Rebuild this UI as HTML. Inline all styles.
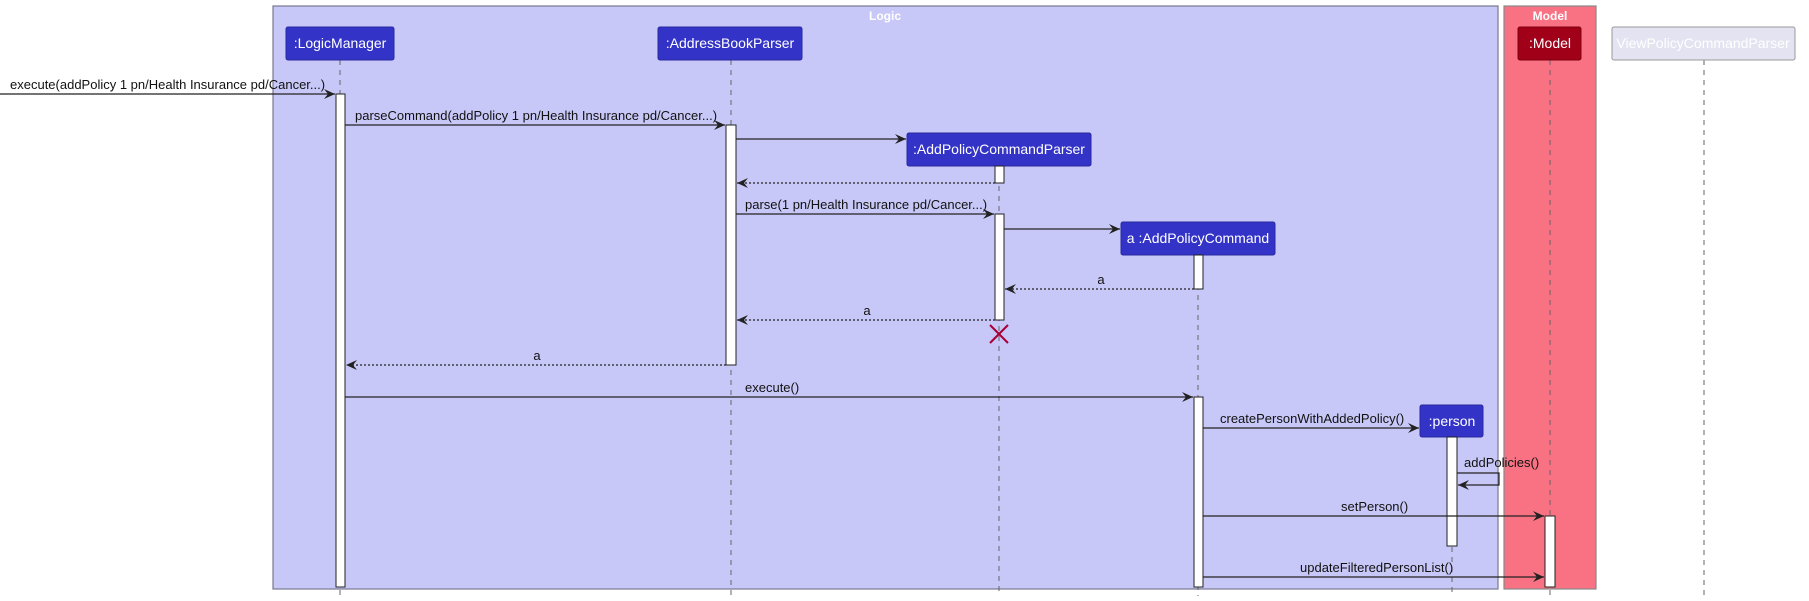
<!DOCTYPE html>
<html><head><meta charset="utf-8"><style>
html,body{margin:0;padding:0;background:#fff;}
svg{display:block;font-family:"Liberation Sans",sans-serif;}
</style></head><body>
<svg width="1809" height="601" viewBox="0 0 1809 601" xmlns="http://www.w3.org/2000/svg">
<defs>
<marker id="ah" markerWidth="12" markerHeight="10" refX="11" refY="5" orient="auto" markerUnits="userSpaceOnUse">
<path d="M0,0 L11,5 L0,10 L4,5 Z" fill="#222"/>
</marker>
</defs>
<rect x="273" y="6" width="1225" height="583" fill="#c8c8f8" stroke="#777790" stroke-width="1.2"/>
<text x="885" y="20" font-size="12" font-weight="bold" fill="#fff" text-anchor="middle">Logic</text>
<rect x="1504" y="6" width="92" height="583" fill="#f87284" stroke="#888" stroke-width="1.2"/>
<text x="1550" y="20" font-size="12" font-weight="bold" fill="#fff" text-anchor="middle">Model</text>

<g stroke="#666" stroke-width="1" stroke-dasharray="5,5">
<line x1="340" y1="60" x2="340" y2="596"/>
<line x1="731" y1="60" x2="731" y2="596"/>
<line x1="999" y1="166" x2="999" y2="596"/>
<line x1="1198" y1="255" x2="1198" y2="596"/>
<line x1="1452" y1="437" x2="1452" y2="596"/>
<line x1="1550" y1="60" x2="1550" y2="596"/>
<line x1="1704" y1="60" x2="1704" y2="596"/>
</g>

<g font-size="14" text-anchor="middle">
<rect x="286" y="27" width="108" height="33" rx="2" fill="#3333c7" stroke="#2a2aa0"/>
<text x="340" y="48" fill="#fff">:LogicManager</text>
<rect x="658" y="27" width="144" height="33" rx="2" fill="#3333c7" stroke="#2a2aa0"/>
<text x="730" y="48" fill="#fff">:AddressBookParser</text>
<rect x="907" y="133" width="184" height="33" rx="2" fill="#3333c7" stroke="#2a2aa0"/>
<text x="999" y="154" fill="#fff">:AddPolicyCommandParser</text>
<rect x="1121" y="222" width="154" height="33" rx="2" fill="#3333c7" stroke="#2a2aa0"/>
<text x="1198" y="243" fill="#fff">a :AddPolicyCommand</text>
<rect x="1420" y="405" width="63" height="32" rx="2" fill="#3333c7" stroke="#2a2aa0"/>
<text x="1452" y="426" fill="#fff">:person</text>
<rect x="1518" y="27" width="63" height="33" rx="2" fill="#a00018" stroke="#800010"/>
<text x="1550" y="48" fill="#fff">:Model</text>
<rect x="1612" y="27" width="183" height="33" rx="2" fill="#e4e3f2" stroke="#999"/>
<text x="1703" y="48" fill="#fff">ViewPolicyCommandParser</text>
</g>

<g fill="#fff" stroke="#222" stroke-width="1">
<rect x="336" y="94" width="9" height="493"/>
<rect x="726" y="125" width="10" height="240"/>
<rect x="995" y="166" width="9" height="17"/>
<rect x="995" y="214" width="9" height="106"/>
<rect x="1194" y="255" width="9" height="34"/>
<rect x="1194" y="397" width="9" height="190"/>
<rect x="1447" y="437" width="10" height="109"/>
<rect x="1545" y="516" width="10" height="71"/>
</g>

<g stroke="#a80036" stroke-width="2">
<line x1="990" y1="325" x2="1008" y2="343"/>
<line x1="1008" y1="325" x2="990" y2="343"/>
</g>

<g stroke="#222" stroke-width="1.2" fill="none" marker-end="url(#ah)">
<line x1="0" y1="94" x2="335" y2="94"/>
<line x1="345" y1="125" x2="725" y2="125"/>
<line x1="736" y1="139" x2="906" y2="139"/>
<line x1="995" y1="183" x2="737" y2="183" stroke-dasharray="2,2"/>
<line x1="736" y1="214" x2="994" y2="214"/>
<line x1="1004" y1="229" x2="1120" y2="229"/>
<line x1="1194" y1="289" x2="1005" y2="289" stroke-dasharray="2,2"/>
<line x1="995" y1="320" x2="737" y2="320" stroke-dasharray="2,2"/>
<line x1="726" y1="365" x2="346" y2="365" stroke-dasharray="2,2"/>
<line x1="345" y1="397" x2="1193" y2="397"/>
<line x1="1203" y1="428" x2="1419" y2="428"/>
<polyline points="1457,473 1499,473 1499,485 1458,485"/>
<line x1="1203" y1="516" x2="1544" y2="516"/>
<line x1="1203" y1="577" x2="1544" y2="577"/>
</g>

<g font-size="13" fill="#111">
<text x="10" y="89">execute(addPolicy 1 pn/Health Insurance pd/Cancer...)</text>
<text x="355" y="120">parseCommand(addPolicy 1 pn/Health Insurance pd/Cancer...)</text>
<text x="745" y="209">parse(1 pn/Health Insurance pd/Cancer...)</text>
<text x="1101" y="284" text-anchor="middle">a</text>
<text x="867" y="315" text-anchor="middle">a</text>
<text x="537" y="360" text-anchor="middle">a</text>
<text x="745" y="392">execute()</text>
<text x="1220" y="423">createPersonWithAddedPolicy()</text>
<text x="1464" y="467">addPolicies()</text>
<text x="1341" y="511">setPerson()</text>
<text x="1300" y="572">updateFilteredPersonList()</text>
</g>
</svg>
</body></html>
